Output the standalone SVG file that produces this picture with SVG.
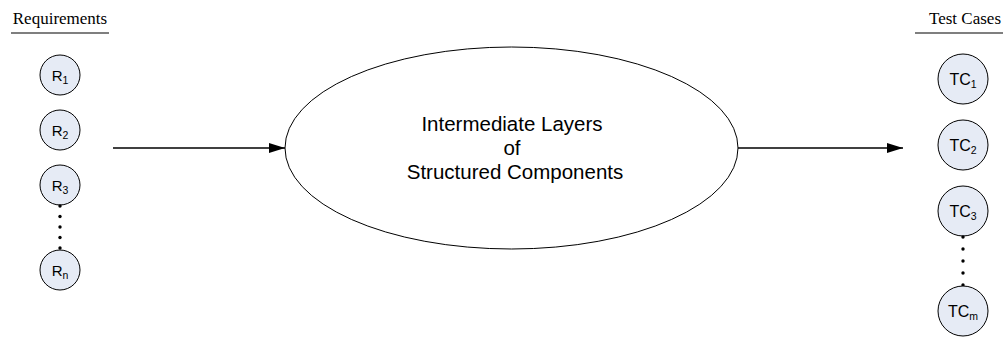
<svg xmlns="http://www.w3.org/2000/svg" width="1005" height="341" viewBox="0 0 1005 341">
  <style>
    .hdr { font-family: "Liberation Serif", "Times New Roman", serif; font-size: 17px; fill: #000; text-anchor: middle; }
    .rule { stroke: #000; stroke-width: 1.2; }
    .item { fill: #e6ebf5; stroke: #000; stroke-width: 1; }
    .lbl { font-family: "Liberation Sans", Arial, sans-serif; font-size: 15px; fill: #000; text-anchor: middle; }
    .lbl-tc { font-size: 16px; }
    .sub { font-size: 10.5px; }
    .dot { fill: #000; }
    .core { fill: #fff; stroke: #000; stroke-width: 1; }
    .core-text { font-family: "Liberation Sans", Arial, sans-serif; font-size: 20.5px; fill: #000; text-anchor: middle; }
    .flow { stroke: #000; stroke-width: 1.3; fill: none; marker-end: url(#head); }
  </style>
  <defs>
    <marker id="head" viewBox="0 0 16 10" refX="16" refY="5" markerWidth="16" markerHeight="10" markerUnits="userSpaceOnUse" orient="auto">
      <path d="M0,0 L16,5 L0,10 Z" fill="#000"/>
    </marker>
  </defs>

  <!-- column headers -->
  <g id="requirements-header">
    <text class="hdr" x="60" y="24">Requirements</text>
    <line class="rule" x1="11" y1="33" x2="109" y2="33"/>
  </g>
  <g id="testcases-header">
    <text class="hdr" x="965" y="24">Test Cases</text>
    <line class="rule" x1="915" y1="33" x2="1003" y2="33"/>
  </g>

  <!-- requirement nodes -->
  <g id="r1"><circle class="item" cx="60" cy="75" r="20"/><text class="lbl" x="60" y="80.5">R<tspan class="sub" dy="3">1</tspan></text></g>
  <g id="r2"><circle class="item" cx="60" cy="130" r="20"/><text class="lbl" x="60" y="135.5">R<tspan class="sub" dy="3">2</tspan></text></g>
  <g id="r3"><circle class="item" cx="60" cy="185" r="20"/><text class="lbl" x="60" y="190.5">R<tspan class="sub" dy="3">3</tspan></text></g>
  <g id="r-ellipsis">
    <circle class="dot" cx="60" cy="206" r="1.7"/>
    <circle class="dot" cx="60" cy="216.5" r="1.7"/>
    <circle class="dot" cx="60" cy="227" r="1.7"/>
    <circle class="dot" cx="60" cy="237.5" r="1.7"/>
    <circle class="dot" cx="60" cy="248" r="1.7"/>
  </g>
  <g id="rn"><circle class="item" cx="60" cy="270" r="20"/><text class="lbl" x="60" y="275.5">R<tspan class="sub" dy="3">n</tspan></text></g>

  <!-- central component -->
  <g id="intermediate-layers">
    <ellipse class="core" cx="511.5" cy="148" rx="226.5" ry="101"/>
    <text class="core-text" x="512" y="131">Intermediate Layers</text>
    <text class="core-text" x="512" y="155">of</text>
    <text class="core-text" x="515" y="179">Structured Components</text>
  </g>

  <!-- test case nodes -->
  <g id="tc1"><circle class="item" cx="963" cy="79" r="25"/><text class="lbl lbl-tc" x="963" y="85">TC<tspan class="sub" dy="3">1</tspan></text></g>
  <g id="tc2"><circle class="item" cx="963" cy="145" r="25"/><text class="lbl lbl-tc" x="963" y="151">TC<tspan class="sub" dy="3">2</tspan></text></g>
  <g id="tc3"><circle class="item" cx="963" cy="211" r="25"/><text class="lbl lbl-tc" x="963" y="217">TC<tspan class="sub" dy="3">3</tspan></text></g>
  <g id="tc-ellipsis">
    <circle class="dot" cx="963" cy="237" r="1.7"/>
    <circle class="dot" cx="963" cy="249" r="1.7"/>
    <circle class="dot" cx="963" cy="261" r="1.7"/>
    <circle class="dot" cx="963" cy="273" r="1.7"/>
    <circle class="dot" cx="963" cy="285" r="1.7"/>
  </g>
  <g id="tcm"><circle class="item" cx="963" cy="311" r="25"/><text class="lbl lbl-tc" x="963" y="317">TC<tspan class="sub" dy="3">m</tspan></text></g>

  <!-- connectors -->
  <g id="connectors">
    <line class="flow" x1="113" y1="148" x2="285" y2="148"/>
    <line class="flow" x1="738" y1="148" x2="903" y2="148"/>
  </g>
</svg>
